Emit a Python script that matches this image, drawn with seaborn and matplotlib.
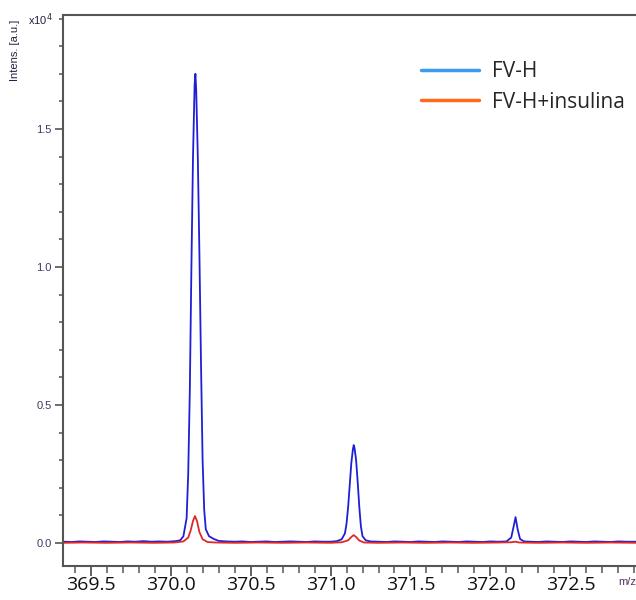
import matplotlib
matplotlib.use("Agg")
import matplotlib.pyplot as plt
from matplotlib.lines import Line2D
from matplotlib.ticker import MultipleLocator
import seaborn as sns
import pandas as pd

# Mass spectrum traces (m/z, intensity in units of 1e4 a.u.)
fvh_mz = [369.33, 369.38, 369.43, 369.48, 369.53, 369.58, 369.63, 369.68, 369.73,
          369.78, 369.83, 369.88, 369.93, 369.98, 370.03, 370.06, 370.08, 370.10,
          370.11, 370.12, 370.13, 370.14, 370.15, 370.155, 370.16, 370.17, 370.18,
          370.19, 370.20, 370.21, 370.22, 370.24, 370.27, 370.30, 370.35, 370.40,
          370.45, 370.50, 370.55, 370.60, 370.65, 370.70, 370.75, 370.80, 370.85,
          370.90, 370.95, 371.00, 371.04, 371.07, 371.09, 371.10, 371.11, 371.12,
          371.13, 371.14, 371.145, 371.15, 371.16, 371.17, 371.18, 371.19, 371.20,
          371.22, 371.25, 371.30, 371.35, 371.40, 371.45, 371.50, 371.55, 371.60,
          371.65, 371.70, 371.75, 371.80, 371.85, 371.90, 371.95, 372.00, 372.05,
          372.10, 372.13, 372.145, 372.157, 372.17, 372.185, 372.21, 372.25, 372.30,
          372.35, 372.40, 372.45, 372.50, 372.55, 372.60, 372.65, 372.70, 372.75,
          372.80, 372.85, 372.91]
fvh_int = [0.005, 0.004, 0.006, 0.005, 0.004, 0.006, 0.005, 0.004, 0.006,
           0.005, 0.007, 0.005, 0.006, 0.005, 0.007, 0.010, 0.025, 0.090,
           0.250, 0.550, 1.000, 1.400, 1.660, 1.700, 1.640, 1.400, 1.050,
           0.650, 0.300, 0.120, 0.050, 0.025, 0.015, 0.008, 0.006, 0.005,
           0.006, 0.004, 0.005, 0.006, 0.004, 0.005, 0.006, 0.005, 0.004,
           0.006, 0.005, 0.005, 0.007, 0.014, 0.035, 0.070, 0.130, 0.210,
           0.290, 0.340, 0.355, 0.345, 0.300, 0.220, 0.130, 0.060, 0.025,
           0.010, 0.006, 0.005, 0.004, 0.006, 0.005, 0.004, 0.006, 0.005,
           0.004, 0.006, 0.005, 0.004, 0.006, 0.005, 0.004, 0.006, 0.005,
           0.006, 0.020, 0.060, 0.094, 0.050, 0.015, 0.006, 0.005, 0.004,
           0.006, 0.005, 0.004, 0.006, 0.005, 0.004, 0.006, 0.005, 0.004,
           0.006, 0.005, 0.005]

ins_mz = [369.33, 369.45, 369.60, 369.75, 369.90, 370.02, 370.08, 370.11, 370.125,
          370.14, 370.152, 370.165, 370.18, 370.20, 370.23, 370.28, 370.40, 370.55,
          370.70, 370.85, 371.00, 371.07, 371.11, 371.13, 371.145, 371.16, 371.18,
          371.21, 371.30, 371.45, 371.60, 371.75, 371.90, 372.05, 372.13, 372.157,
          372.18, 372.30, 372.45, 372.60, 372.75, 372.91]
ins_int = [0.001, 0.002, 0.001, 0.002, 0.001, 0.002, 0.006, 0.020, 0.045,
           0.080, 0.098, 0.080, 0.040, 0.014, 0.004, 0.002, 0.001, 0.002,
           0.001, 0.002, 0.001, 0.003, 0.010, 0.022, 0.029, 0.022, 0.009,
           0.002, 0.001, 0.002, 0.001, 0.002, 0.001, 0.002, 0.003, 0.005,
           0.002, 0.001, 0.002, 0.001, 0.002, 0.001]

series_names = ["FV-H", "FV-H+insulina"]
trace_colors = {"FV-H": "#1f1fd6", "FV-H+insulina": "#e02828"}
legend_colors = ["#3a9bf0", "#ff6a1a"]
x_ticks = [369.5, 370.0, 370.5, 371.0, 371.5, 372.0, 372.5]
y_ticks = [0.0, 0.5, 1.0, 1.5]

df = pd.concat([
    pd.DataFrame({"mz": fvh_mz, "intens": fvh_int, "series": series_names[0]}),
    pd.DataFrame({"mz": ins_mz, "intens": ins_int, "series": series_names[1]}),
], ignore_index=True)

sns.set_style("white")
fig = plt.figure(figsize=(6.36, 6.0), dpi=100)
ax = fig.add_axes([63 / 636, 1 - 566 / 600, 1 - 63 / 636 + 0.01, (566 - 15) / 600])

sns.lineplot(data=df, x="mz", y="intens", hue="series", palette=trace_colors,
             estimator=None, sort=False, linewidth=1.3, legend=False, ax=ax)

ax.set_xlim(369.327, 372.95)
ax.set_ylim(-0.083, 1.913)
ax.set_xlabel("")
ax.set_ylabel("")

for side in ["left", "top", "bottom"]:
    ax.spines[side].set_color("#555555")
    ax.spines[side].set_linewidth(1.5)
ax.spines["right"].set_visible(False)

ax.set_xticks(x_ticks)
ax.set_xticklabels([f"{v:.1f}" for v in x_ticks], fontsize=14,
                   fontfamily="Open Sans", color="#111111")
ax.xaxis.set_minor_locator(MultipleLocator(0.1))
ax.set_yticks(y_ticks)
ax.set_yticklabels([f"{v:.1f}" for v in y_ticks], fontsize=8,
                   fontfamily="Liberation Sans", color="#3a3a66")
ax.yaxis.set_minor_locator(MultipleLocator(0.1))

ax.tick_params(axis="x", which="major", direction="out", length=7, width=1.3,
               color="#555555", pad=0, bottom=True)
ax.tick_params(axis="x", which="minor", direction="out", length=5, width=1.1,
               color="#555555", bottom=True)
ax.tick_params(axis="y", which="major", direction="out", length=6, width=1.2,
               color="#555555", pad=2, left=True)
ax.tick_params(axis="y", which="minor", direction="out", length=3, width=1.1,
               color="#555555", left=True)

handles = [Line2D([0], [0], color=c, linewidth=2.5) for c in legend_colors]
ax.legend(handles, series_names, loc="upper left", bbox_to_anchor=(0.6, 0.935),
          frameon=False, handlelength=2.8, handletextpad=0.6,
          labelspacing=0.45, borderpad=0, prop={"family": "Open Sans", "size": 15})

fig.text(15 / 636, 1 - 50 / 600, "Intens. [a.u.]", rotation=90, ha="center",
         va="center", fontsize=8, fontfamily="Liberation Sans", color="#222244")
fig.text(28 / 636, 1 - 20 / 600, r"x10$^4$", ha="left", va="center", fontsize=8,
         fontfamily="Liberation Sans", color="#222244")
fig.text(618 / 636, 1 - 582 / 600, "m/z", ha="left", va="center", fontsize=8,
         fontfamily="Liberation Sans", color="#553366")

fig.savefig("out.png", dpi=100)
